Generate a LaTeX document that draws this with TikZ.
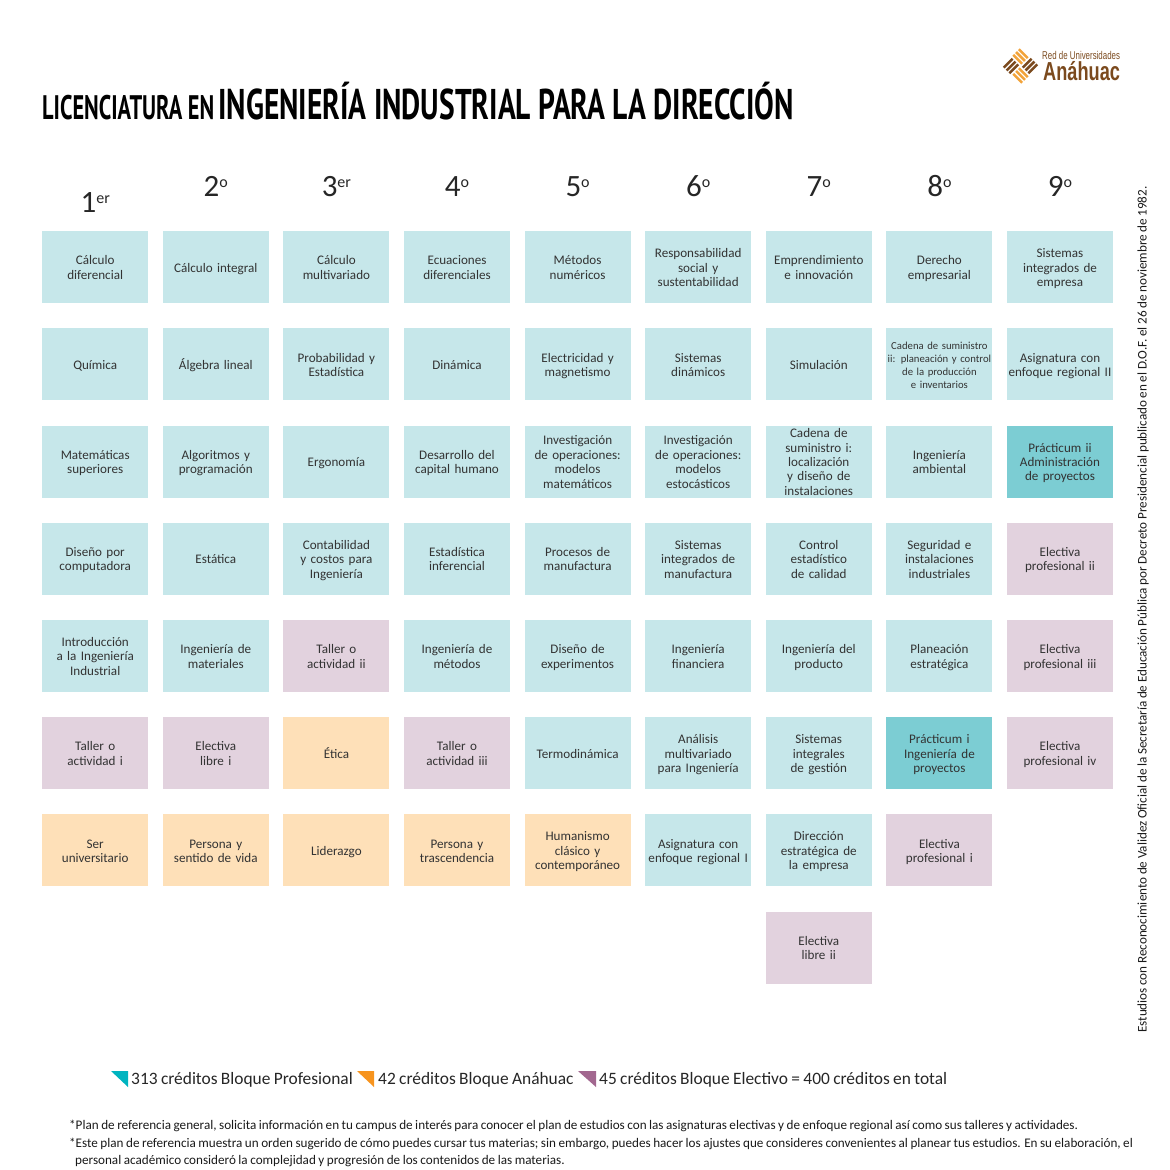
\documentclass[tikz,border=0pt]{standalone}
\usepackage{fontspec}
\setmainfont[WordSpace=0.85]{Carlito}
\newfontfamily\titlesmall[FakeStretch=0.657]{PT Sans}
\newfontfamily\titlebig[FakeStretch=0.686]{PT Sans}
\newfontfamily\logofont[FakeStretch=0.70]{Liberation Sans}
\usepackage{xcolor}
\usetikzlibrary{matrix,positioning}
\definecolor{prof}{HTML}{C6E7EA}
\definecolor{prac}{HTML}{7CCDD3}
\definecolor{elec}{HTML}{E2D2DE}
\definecolor{anah}{HTML}{FEE0B8}
\definecolor{logob}{HTML}{7B4A1E}
\definecolor{logoo}{HTML}{F2A33A}
\definecolor{keyp}{HTML}{00B4C0}
\definecolor{keya}{HTML}{F7941E}
\definecolor{keye}{HTML}{A2678F}
\newcommand{\up}[1]{\raisebox{9pt}{\fontsize{16}{16}\selectfont #1}}
\lefthyphenmin=64
\tikzset{
  box/.style={fill=prof, text=black!80, anchor=center, minimum width=106pt, minimum height=72pt, text width=105pt, align=center, inner sep=0pt, font=\fontsize{13.1}{14.4}\selectfont, execute at begin node={\strut}, execute at end node={\strut\vspace*{-4pt}}},
  pr/.style={fill=prac},
  el/.style={fill=elec},
  an/.style={fill=anah},
  tiny/.style={font=\fontsize{10.7}{12.7}\selectfont},
  sem/.style={font=\fontsize{31}{31}\selectfont, text=black!85, inner sep=0pt, anchor=base},
  key/.style={font=\fontsize{17.4}{20}\selectfont, text=black!85, inner sep=0pt, anchor=west},
  note/.style={font=\fontsize{13.15}{17.5}\selectfont, text=black!90, inner sep=0pt, anchor=north west, align=left}
}
\begin{document}
\begin{tikzpicture}[x=1pt,y=-1pt]
  \useasboundingbox (0,0) rectangle (1170,1170);
  \node[inner sep=0pt, anchor=base west] (title) at (42,119.5) {\bfseries{\titlesmall\fontsize{34}{34}\selectfont LICENCIATURA EN}\hspace{4pt}{\titlebig\fontsize{43}{43}\selectfont INGENIERÍA INDUSTRIAL PARA LA DIRECCIÓN}};
  % logo
  \begin{scope}[shift={(1020.5,66)}, rotate=45, line width=2.5pt]
    \foreach \s in {-4,0,4} {
      \draw[logoo] (6.7+\s,-13) -- (6.7+\s,-0.5);
      \draw[logoo] (-6.7+\s,0.5) -- (-6.7+\s,13);
      \draw[logob] (0.5,6.7+\s) -- (13,6.7+\s);
      \draw[logob] (-13,-6.7+\s) -- (-0.5,-6.7+\s);
    }
  \end{scope}
  \node[inner sep=0pt, anchor=base west, text=logob] (red) at (1042,59.5) {\logofont\fontsize{11.3}{12}\selectfont Red de Universidades};
  \node[inner sep=0pt, anchor=base west, text=logob] (anahuac) at (1043,80) {\logofont\bfseries\fontsize{26}{26}\selectfont Anáhuac};
  \matrix (m) [matrix of nodes, nodes={box}, row sep=25.2pt, column sep=14.6pt, anchor=north west, inner sep=0pt] at (42,231)
  {
{Cálculo\\diferencial} & Cálculo integral & {Cálculo\\multivariado} & {Ecuaciones\\diferenciales} & {Métodos\\numéricos} & {Responsabilidad\\social y\\sustentabilidad} & {Emprendimiento\\e innovación} & {Derecho\\empresarial} & {Sistemas\\integrados de\\empresa} \\
Química & Álgebra lineal & {Probabilidad y\\Estadística} & Dinámica & {Electricidad y\\magnetismo} & {Sistemas\\dinámicos} & Simulación & |[tiny]| {Cadena de suministro\\ii: planeación y control\\de la producción\\e inventarios} & {Asignatura con\\enfoque regional II} \\
{Matemáticas\\superiores} & {Algoritmos y\\programación} & Ergonomía & {Desarrollo del\\capital humano} & {Investigación\\de operaciones:\\modelos\\matemáticos} & {Investigación\\de operaciones:\\modelos\\estocásticos} & {Cadena de\\suministro i:\\localización\\y diseño de\\instalaciones} & {Ingeniería\\ambiental} & |[pr]| {Prácticum ii\\Administración\\de proyectos} \\
{Diseño por\\computadora} & Estática & {Contabilidad\\y costos para\\Ingeniería} & {Estadística\\inferencial} & {Procesos de\\manufactura} & {Sistemas\\integrados de\\manufactura} & {Control\\estadístico\\de calidad} & {Seguridad e\\instalaciones\\industriales} & |[el]| {Electiva\\profesional ii} \\
{Introducción\\a la Ingeniería\\Industrial} & {Ingeniería de\\materiales} & |[el]| {Taller o\\actividad ii} & {Ingeniería de\\métodos} & {Diseño de\\experimentos} & {Ingeniería\\financiera} & {Ingeniería del\\producto} & {Planeación\\estratégica} & |[el]| {Electiva\\profesional iii} \\
|[el]| {Taller o\\actividad i} & |[el]| {Electiva\\libre i} & |[an]| Ética & |[el]| {Taller o\\actividad iii} & Termodinámica & {Análisis\\multivariado\\para Ingeniería} & {Sistemas\\integrales\\de gestión} & |[pr]| {Prácticum i\\Ingeniería de\\proyectos} & |[el]| {Electiva\\profesional iv} \\
|[an]| {Ser\\universitario} & |[an]| {Persona y\\sentido de vida} & |[an]| Liderazgo & |[an]| {Persona y\\trascendencia} & |[an]| {Humanismo\\clásico y\\contemporáneo} & {Asignatura con\\enfoque regional I} & {Dirección\\estratégica de\\la empresa} & |[el]| {Electiva\\profesional i} & \\
 & & & & & & |[el]| {Electiva\\libre ii} & & \\
};
  \foreach \j/\t in {2/2\up{o},3/3\up{er},4/4\up{o},5/5\up{o},6/6\up{o},7/7\up{o},8/8\up{o},9/9\up{o}}
    \node[sem] (s\j) at ([yshift=35pt]m-1-\j.north) {\t};
  \node[sem] (s1) at ([yshift=19pt]m-1-1.north) {1\up{er}};
  % side note
  \node[rotate=90, anchor=west, inner sep=0pt, text=black!90, font=\fontsize{13.15}{15}\selectfont] (side) at (1143,1033) {Estudios con Reconocimiento de Validez Oficial de la Secretaría de Educación Pública por Decreto Presidencial publicado en el D.O.F. el 26 de noviembre de 1982.};
  % credits
  \fill[keyp] (111,1071) -- (128,1071) -- (128,1087) -- cycle;
  \fill[keya] (357,1071) -- (374,1071) -- (374,1087) -- cycle;
  \fill[keye] (578,1071) -- (596,1071) -- (596,1087) -- cycle;
  \node[key] (kp) at (131,1079.5) {313 créditos Bloque Profesional};
  \node[key] (ka) at (378,1079.5) {42 créditos Bloque Anáhuac};
  \node[key] (ke) at (599,1079.5) {45 créditos Bloque Electivo = 400 créditos en total};
  \node[note] (n) at (69,1120) {*Plan de referencia general, solicita información en tu campus de interés para conocer el plan de estudios con las asignaturas electivas y de enfoque regional así como sus talleres y actividades.\\*Este plan de referencia muestra un orden sugerido de cómo puedes cursar tus materias; sin embargo, puedes hacer los ajustes que consideres convenientes al planear tus estudios. En su elaboración, el\\\hspace*{6pt}personal académico consideró la complejidad y progresión de los contenidos de las materias.};
\end{tikzpicture}
\end{document}
